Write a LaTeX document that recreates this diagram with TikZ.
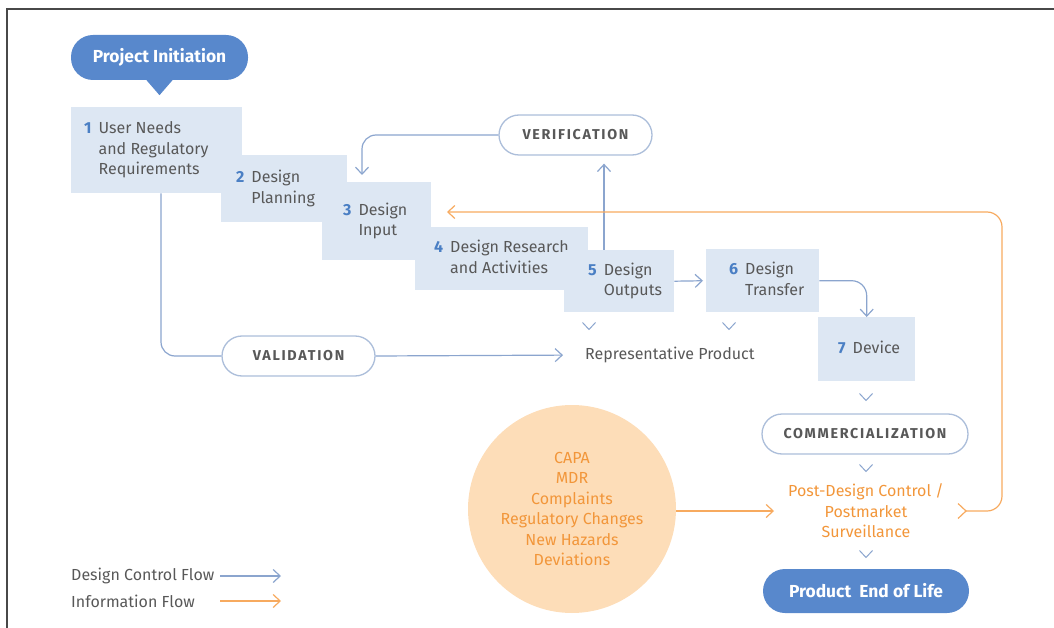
\documentclass[tikz,border=0pt]{standalone}
\usepackage{fontspec}
\setmainfont{Fira Sans}
\newfontfamily\capsfont[LetterSpace=12]{Fira Sans}
\usetikzlibrary{arrows.meta,positioning,shapes}

\definecolor{boxblue}{RGB}{221,231,243}
\definecolor{deepblue}{RGB}{88,136,204}
\definecolor{lineblue}{RGB}{139,165,206}
\definecolor{pillline}{RGB}{172,190,218}
\definecolor{textgray}{RGB}{88,88,88}
\definecolor{numblue}{RGB}{74,127,196}
\definecolor{infoline}{RGB}{247,170,95}
\definecolor{infotext}{RGB}{242,150,58}
\definecolor{peach}{RGB}{253,221,184}
\definecolor{framegray}{RGB}{72,72,72}

\newcommand{\Num}[1]{\textcolor{numblue}{\bfseries #1}}

\begin{document}
\begin{tikzpicture}[x=1pt, y=-1pt, font=\fontsize{16}{20.5}\selectfont, text=textgray]
	\tikzstyle{Step}	= [fill=boxblue, anchor=north west, inner sep=0pt]
	\tikzstyle{Pill}	= [draw=pillline, line width=1.3pt, fill=white, rounded corners=20pt, minimum height=40pt, font=\capsfont\bfseries\fontsize{14.3}{16}\selectfont]
	\tikzstyle{Term}	= [fill=deepblue, text=white, rounded corners=22pt, minimum height=44pt, font=\bfseries\fontsize{17.4}{20}\selectfont]
	\tikzstyle{Line}	= [draw=lineblue, line width=1.2pt]
	\tikzstyle{Flow}	= [Line, -{Straight Barb[length=7pt,width=13pt]}]
	\tikzstyle{InfoLine}	= [draw=infoline, line width=1.2pt]
	\tikzstyle{Info}	= [InfoLine, -{Straight Barb[length=7pt,width=13pt]}]
	\tikzstyle{Tick}	= [Line, line width=1pt]

	\useasboundingbox (0,0) rectangle (1054,628);
	\draw [framegray, line width=1.5pt] (7,628) -- (7,9) -- (1054,9);

	% the seven steps
	\foreach \i/\x/\y/\w/\h/\p/\txt in {
		1/71/107/171/86/13/{User Needs\\&and Regulatory\\&Requirements},
		2/221/155/126/67/15/{Design\\&Planning},
		3/322/182/109/78/21/{Design\\&Input},
		4/415/227/173/63/19/{Design Research\\&and Activities},
		5/564/250/110/62/24/{Design\\&Outputs},
		6/706/249/113/63/23/{Design\\&Transfer},
		7/818/317/97/64/20/{Device}}
	{
		\node (b\i) at (\x,\y) [Step, minimum width=\w, minimum height=\h] {};
		\node (t\i) at ([xshift=\p]b\i.west) [anchor=west, inner sep=0pt]
			{\begin{tabular}{@{}l@{\hspace{7pt}}l@{}}\Num{\i}&\txt\end{tabular}};
	}

	\node (init) at (159.5,57.5) [Term, minimum width=177pt, minimum height=45pt] {Project Initiation};
	\fill [deepblue] ([xshift=-13pt]init.south) -- ([xshift=13pt]init.south) -- ([yshift=-15pt]init.south) -- cycle;
	\node (eol) at (866,591) [Term, minimum width=206pt] {Product~~End of Life};

	\node (verif) at (575.5,135) [Pill, minimum width=153pt] {VERIFICATION};
	\node (valid) at (298.5,356) [Pill, minimum width=153pt] {VALIDATION};
	\node (comm) at (865,434) [Pill, minimum width=206pt] {COMMERCIALIZATION};

	\node (rep) at (585,355) [anchor=west, inner sep=0pt] {Representative Product};
	\node (capa) at (572,509) [circle, fill=peach, minimum size=208pt, inner sep=0pt, text=infotext, align=center]
		{CAPA\\MDR\\Complaints\\Regulatory Changes\\New Hazards\\Deviations};
	\node (post) at (866,511) [inner sep=0pt, text=infotext, align=center] {Post-Design Control /\\Postmarket\\Surveillance};

	% design control flow
	\draw [Line, rounded corners=14pt] ([xshift=90pt]b1.south west) |- (valid.west);
	\draw [Flow, shorten >=22pt] (valid.east) -- (rep.west);
	\draw [Flow, rounded corners=14pt] (verif.west) -| ([xshift=40pt,yshift=7pt]b3.north west);
	\draw [Flow, shorten >=8pt] ([xshift=40pt]b5.north west) coordinate (vup) -- (vup |- verif.south);
	\draw [Flow, shorten >=3pt] (b5.east) -- (b6.west);
	\draw [Flow, rounded corners=15pt] (b6.east) -| (b7.north);
	\foreach \x/\y in {589/326, 729/326, 866/397, 866/468, 866/554}
		\draw [Tick] (\x-6.5,\y-3.5) -- (\x,\y+3.5) -- (\x+6.5,\y-3.5);

	% information flow
	\coordinate (pout) at (966,511);
	\coordinate (ret) at (1002,212);
	\coordinate (fbk) at (447,212);
	\draw [Info, shorten >=14pt] (capa.east |- post.west) -- (post.west);
	\draw [InfoLine] (958,503.5) -- (pout) -- (958,518.5);
	\draw [Info, rounded corners=15pt] (pout) -| (ret) -- (fbk);

	% legend
	\node (lgflow) at (71,576) [anchor=west, inner sep=0pt] {Design Control Flow};
	\node (lginfo) at (71,601) [anchor=west, inner sep=0pt] {Information Flow};
	\draw [Flow] ([xshift=149pt]lgflow.west) -- ++(61,0);
	\draw [Info] ([xshift=149pt]lginfo.west) -- ++(61,0);
\end{tikzpicture}
\end{document}
